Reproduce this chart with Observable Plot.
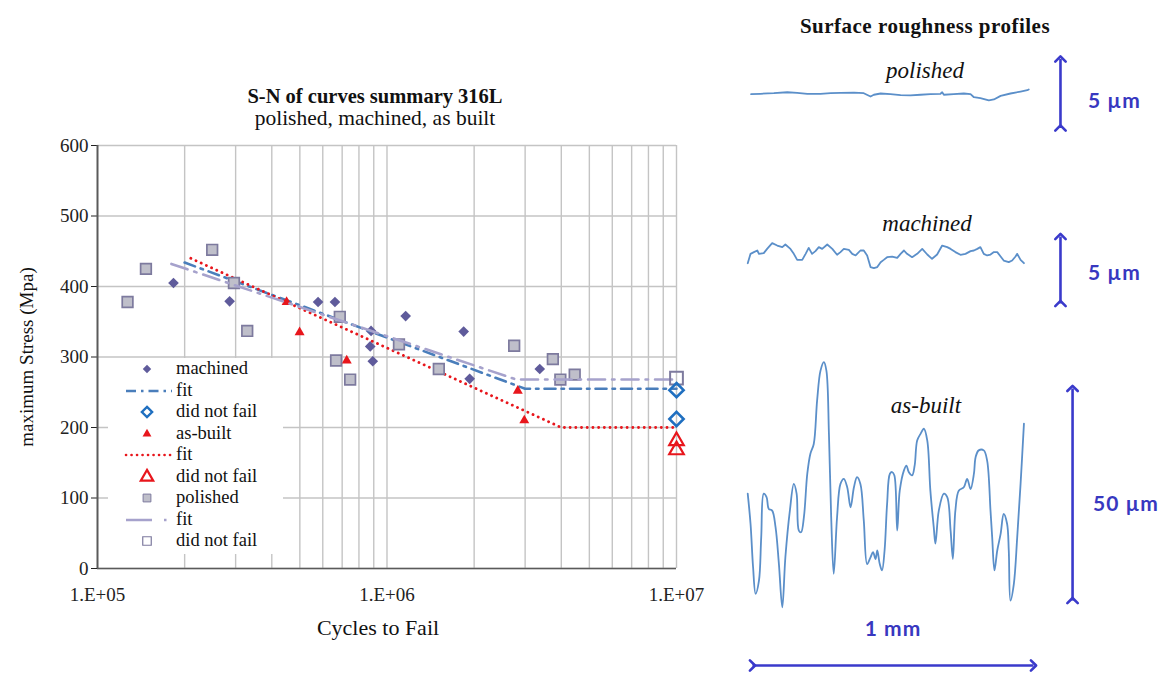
<!DOCTYPE html>
<html>
<head>
<meta charset="utf-8">
<script src="https://cdn.jsdelivr.net/npm/d3@7"></script>
<script src="https://cdn.jsdelivr.net/npm/@observablehq/plot@0.6"></script>
<style>
html,body{margin:0;padding:0;background:#fff;}
#page{position:relative;width:1164px;height:674px;overflow:hidden;font-family:"Liberation Serif","Times New Roman",serif;color:#111;}
.abs{position:absolute;white-space:nowrap;}
.ttl{font-weight:bold;font-size:20.5px;text-align:center;line-height:24px;}
.sub{font-size:21.5px;text-align:center;line-height:24px;}
.ax{font-size:19px;line-height:22px;}
.prof{font-style:italic;font-size:23px;line-height:26px;text-align:center;}
.um{font-family:Lato,"Open Sans",sans-serif;font-weight:bold;font-size:21px;line-height:24px;letter-spacing:1px;color:#3838c0;}
#legend{position:absolute;left:108px;top:358px;width:175px;height:196px;background:#fff;}
.lrow{position:absolute;left:0;height:21.5px;width:175px;}
.lrow svg{position:absolute;left:0;top:0;overflow:visible;}
.lrow span{position:absolute;left:68px;top:0;line-height:21.5px;font-size:18.5px;}
</style>
</head>
<body>
<div id="page"></div>
<script>
// ---------------- data ----------------
const xTicks = [1e5, 1e6, 1e7];
const xTickLabels = ["1.E+05", "1.E+06", "1.E+07"];
const yTicks = [0, 100, 200, 300, 400, 500, 600];
const xGrid = [2e5, 3e5, 4e5, 5e5, 6e5, 7e5, 8e5, 9e5, 1e6, 2e6, 3e6, 4e6, 5e6, 6e6, 7e6, 8e6, 9e6, 1e7];

// [cycles to fail, maximum stress MPa]
const machined = [[1.83e5,405],[2.86e5,379],[5.78e5,378],[6.61e5,378],[8.81e5,337],[8.75e5,315],[8.93e5,294],[1.16e6,358],[1.84e6,336],[1.93e6,269],[3.37e6,283]];
const machinedFit = [[2.0e5,434],[3.0e6,255],[1e7,255]];
const machinedRunout = [[1e7,253],[1e7,212]];

const asBuilt = [[4.5e5,378],[4.99e5,335],[7.26e5,295],[2.83e6,252],[2.98e6,210]];
const asBuiltFit = [[2.1e5,440],[4.0e6,200],[1e7,200]];
const asBuiltRunout = [[1e7,181],[1e7,168]];

const polished = [[1.27e5,378],[1.47e5,425],[2.49e5,452],[2.96e5,405],[3.29e5,337],[6.87e5,357],[6.67e5,295],[7.46e5,268],[1.1e6,318],[1.51e6,283],[2.75e6,316],[3.74e6,297],[3.97e6,268],[4.45e6,275]];
const polishedFit = [[1.8e5,432],[2.8e6,268],[1e7,268]];
const polishedRunout = [[1e7,270]];

const legendLabels = ["machined","fit","did not fail","as-built","fit","did not fail","polished","fit","did not fail"];

// surface profiles: [position mm, height µm]
const polishedProfile = [[-0.005,-0.05],[0.028,-0.02],[0.076,0.02],[0.124,0.09],[0.159,0.05],[0.195,-0.02],[0.242,-0.02],[0.278,0.02],[0.313,0.05],[0.361,0.07],[0.396,0.02],[0.420,-0.22],[0.432,-0.09],[0.456,0],[0.491,-0.05],[0.527,-0.12],[0.562,-0.14],[0.598,-0.09],[0.633,-0.05],[0.669,-0.02],[0.675,0.09],[0.681,-0.09],[0.716,-0.05],[0.752,0],[0.776,-0.05],[0.788,-0.27],[0.811,-0.34],[0.841,-0.49],[0.859,-0.43],[0.883,-0.17],[0.918,0],[0.954,0.14],[0.978,0.24],[0.983,0.29]];

const machinedProfile = [[-0.017,-0.95],[-0.007,-0.25],[0.005,-0.12],[0.017,0],[0.023,-0.25],[0.040,-0.2],[0.052,0.12],[0.070,0.55],[0.088,0.37],[0.106,0.25],[0.117,0.45],[0.135,0.12],[0.147,-0.25],[0.159,-0.7],[0.177,-0.7],[0.189,-0.25],[0.200,0.2],[0.212,-0.25],[0.224,-0.05],[0.236,0.25],[0.248,0.12],[0.266,0.45],[0.284,0.12],[0.301,-0.32],[0.313,-0.12],[0.325,0.12],[0.343,0.05],[0.355,-0.25],[0.367,-0.37],[0.384,0],[0.396,0],[0.408,-0.37],[0.420,-1.24],[0.432,-1.32],[0.444,-1.24],[0.456,-0.87],[0.467,-0.7],[0.479,-0.5],[0.497,-0.45],[0.515,-0.55],[0.527,-0.25],[0.539,0],[0.550,-0.25],[0.568,-0.5],[0.586,-0.25],[0.604,0.12],[0.622,-0.3],[0.639,-0.62],[0.657,-0.3],[0.675,0.37],[0.693,0.25],[0.705,0.12],[0.722,-0.12],[0.740,-0.32],[0.758,-0.25],[0.776,-0.05],[0.788,0],[0.800,0.12],[0.811,0.25],[0.823,-0.25],[0.835,-0.37],[0.847,-0.3],[0.859,-0.12],[0.871,-0.12],[0.883,-0.45],[0.894,-0.75],[0.912,-0.87],[0.924,-0.75],[0.936,-0.45],[0.942,-0.25],[0.954,-0.7],[0.966,-0.95]];

const asBuiltProfile = [[-0.017,0.2],[-0.007,-6.9],[0.002,-17.1],[0.011,-23.4],[0.023,-20.3],[0.031,-10.1],[0.040,0.2],[0.050,-0.6],[0.058,-3.4],[0.070,-3.8],[0.082,-7.7],[0.094,-16.4],[0.106,-26.6],[0.117,-14.8],[0.133,-3.8],[0.147,2.5],[0.157,0.2],[0.165,-8.5],[0.173,-8.9],[0.183,-5.3],[0.195,4.9],[0.206,9.6],[0.218,11.9],[0.230,22.2],[0.242,29.2],[0.254,31.2],[0.263,29.2],[0.272,14.3],[0.280,-5.3],[0.289,-18.7],[0.301,-5.3],[0.313,2.5],[0.325,3.7],[0.337,1.7],[0.349,-3.0],[0.361,1.7],[0.372,4.1],[0.384,2.5],[0.396,-6.1],[0.408,-16.4],[0.420,-14.8],[0.429,-13.6],[0.438,-15.2],[0.444,-13.2],[0.453,-16.4],[0.461,-17.9],[0.470,-13.2],[0.479,-2.2],[0.489,4.9],[0.497,5.3],[0.505,4.5],[0.515,-8.5],[0.524,0.9],[0.539,5.7],[0.548,6.8],[0.556,5.3],[0.568,4.5],[0.577,6.8],[0.586,12.7],[0.598,14.3],[0.610,15.5],[0.622,12.7],[0.633,0.9],[0.645,-7.7],[0.651,-11.6],[0.663,-3.8],[0.681,0.2],[0.693,-0.6],[0.705,-8.5],[0.713,-15.2],[0.722,-3.8],[0.734,0.9],[0.752,1.7],[0.764,3.7],[0.776,1.3],[0.788,4.9],[0.794,8.8],[0.805,10.4],[0.823,10.4],[0.835,8.0],[0.847,-3.8],[0.853,-10.1],[0.861,-17.9],[0.871,-13.2],[0.883,-9.3],[0.894,-4.6],[0.906,-6.9],[0.912,-13.2],[0.918,-25.0],[0.930,-21.1],[0.942,-10.1],[0.954,2.5],[0.966,16.7]];

const heightBars = [5, 5, 50];      // µm
const lengthBar = [1];              // mm
const barLabels = ["5 µm", "5 µm", "50 µm", "1 mm"];

// ---------------- styles ----------------
const C = {
  mach: "#5f5b9b", machFit: "#4a7ebb", machOpen: "#1f6fc0",
  red: "#e8161c",
  polFill: "#bfbfca", polStroke: "#7d7a9e", polFit: "#a6a2cc", polOpen: "#7d7a9e",
  grid: "#c4c4c4", axis: "#5a5a5a", prof: "#5b8fc9", bar: "#3a3acb"
};
const page = document.getElementById("page");
function place(el, left, top, width) {
  const d = document.createElement("div");
  d.className = "abs";
  d.style.left = left + "px"; d.style.top = top + "px";
  if (width) d.style.width = width + "px";
  d.appendChild(el);
  page.appendChild(d);
  return d;
}
function text(str, cls, left, top, width, extra) {
  const d = document.createElement("div");
  d.className = "abs " + cls;
  d.textContent = str;
  d.style.left = left + "px"; d.style.top = top + "px";
  if (width) d.style.width = width + "px";
  if (extra) Object.assign(d.style, extra);
  page.appendChild(d);
  return d;
}
const pt = ([c, s]) => ({c, s});

// ---------------- main S-N chart ----------------
const main = Plot.plot({
  width: 720, height: 520,
  marginLeft: 97, marginRight: 44, marginTop: 15, marginBottom: 82,
  style: {fontFamily: "Liberation Serif, serif", fontSize: "19px", color: "#222", background: "transparent", overflow: "visible"},
  x: {type: "log", domain: [1e5, 1e7], ticks: xTicks, tickFormat: d => xTickLabels[xTicks.indexOf(d)], tickSize: 0, tickPadding: 19, label: null},
  y: {domain: [0, 600], ticks: yTicks, tickSize: 6, tickPadding: 3, label: null},
  marks: [
    Plot.ruleY(yTicks, {stroke: C.grid, strokeWidth: 1.4}),
    Plot.ruleX(xGrid, {stroke: C.grid, strokeWidth: 1.4}),
    Plot.ruleX([1e5], {stroke: C.axis, strokeWidth: 2}),
    Plot.ruleY([0], {stroke: C.axis, strokeWidth: 1.6}),
    Plot.dot(machined.map(pt), {x: "c", y: "s", symbol: "diamond2", r: 4.8, fill: C.mach}),
    Plot.line(machinedFit.map(pt), {x: "c", y: "s", stroke: C.machFit, strokeWidth: 2.6, strokeDasharray: "11 6 2.5 6"}),
    Plot.dot(asBuilt.map(pt), {x: "c", y: "s", symbol: "triangle", r: 3.7, fill: C.red}),
    Plot.line(asBuiltFit.map(pt), {x: "c", y: "s", stroke: C.red, strokeWidth: 2.8, strokeDasharray: "0.1 5.6", strokeLinecap: "round"}),
    Plot.dot(asBuiltRunout.map(pt), {x: "c", y: "s", symbol: "triangle", r: 5.4, fill: "none", stroke: C.red, strokeWidth: 2.2}),
    Plot.dot(polished.map(pt), {x: "c", y: "s", symbol: "square", r: 6.0, fill: C.polFill, stroke: C.polStroke, strokeWidth: 1.7}),
    Plot.line(polishedFit.map(pt), {x: "c", y: "s", stroke: C.polFit, strokeWidth: 2.6, strokeDasharray: "17 7 2.5 7"}),
    Plot.dot(polishedRunout.map(pt), {x: "c", y: "s", symbol: "square", r: 7.2, fill: "none", stroke: C.polOpen, strokeWidth: 2}),
    Plot.dot(machinedRunout.map(pt), {x: "c", y: "s", symbol: "diamond2", r: 6.4, fill: "none", stroke: C.machOpen, strokeWidth: 2.6})
  ]
});
place(main, 0, 130, 720);

// titles & axis labels
text("S-N of curves summary 316L", "ttl", 175, 84, 400);
text("polished, machined, as built", "sub", 175, 106, 400);
text("Cycles to Fail", "ax", 278, 616, 200, {textAlign: "center", fontSize: "22px", lineHeight: "24px"});
text("maximum Stress (Mpa)", "ax", -73, 346, 200, {textAlign: "center", transform: "rotate(-90deg)", transformOrigin: "50% 50%"});

// legend
const legend = document.createElement("div");
legend.id = "legend";
page.appendChild(legend);
const sym = (type, r) => d3.symbol(type, Math.PI * r * r)();
const swatches = [
  {sym: d3.symbolDiamond2, r: 3.8, fill: C.mach},
  {line: C.machFit, dash: "10 5 2.5 5"},
  {sym: d3.symbolDiamond2, r: 4.6, fill: "#fff", stroke: C.machOpen, sw: 2.4},
  {sym: d3.symbolTriangle, r: 3.3, fill: C.red},
  {line: C.red, dash: "0.1 5.4", cap: "round", w: 2.6},
  {sym: d3.symbolTriangle, r: 4.6, fill: "#fff", stroke: C.red, sw: 2.2},
  {sym: d3.symbolSquare, r: 4.4, fill: C.polFill, stroke: C.polStroke, sw: 1},
  {line: C.polFit, dash: "26 12 2.5 40"},
  {sym: d3.symbolSquare, r: 4.8, fill: "#fff", stroke: C.polOpen, sw: 1.2}
];
legendLabels.forEach((lab, i) => {
  const row = document.createElement("div");
  row.className = "lrow";
  row.style.top = (i * 21.5) + "px";
  const s = swatches[i];
  let inner;
  if (s.line) {
    inner = `<line x1="18" x2="64" y1="11" y2="11" stroke="${s.line}" stroke-width="${s.w || 2.5}" stroke-dasharray="${s.dash}" stroke-linecap="${s.cap || 'butt'}"/>`;
  } else {
    inner = `<path transform="translate(39,11)" d="${sym(s.sym, s.r)}" fill="${s.fill}" stroke="${s.stroke || 'none'}" stroke-width="${s.sw || 0}"/>`;
  }
  row.innerHTML = `<svg width="68" height="22">${inner}</svg><span>${lab}</span>`;
  legend.appendChild(row);
});

// ---------------- surface roughness profiles ----------------
text("Surface roughness profiles", "ttl", 725, 14, 400, {fontSize: "21px", letterSpacing: "0.5px"});
const profW = 424, mL = 12, mR = 131;
function profile(data, {top, height, ydom, bar, barX, barDy = 0, curve = "linear"}) {
  const p = Plot.plot({
    width: profW, height,
    marginLeft: mL, marginRight: mR, marginTop: 0, marginBottom: 0,
    style: {background: "transparent", overflow: "visible"},
    x: {domain: [0, 1], axis: null},
    y: {domain: ydom, axis: null},
    marks: [
      Plot.line(data.map(([mm, um]) => ({mm, um})), {x: "mm", y: "um", stroke: C.prof, strokeWidth: 1.8, curve}),
      Plot.link([bar], {x1: () => barX, x2: () => barX, y1: d => -d / 2, y2: d => d / 2, dy: barDy,
        stroke: C.bar, strokeWidth: 2.6, markerStart: "arrow", markerEnd: "arrow"})
    ]
  });
  place(p, 740, top, profW);
}
profile(polishedProfile, {top: 47.5, height: 90, ydom: [-3.26, 3.26], bar: heightBars[0], barX: 1.096});
profile(machinedProfile, {top: 205, height: 90, ydom: [-3.36, 3.36], bar: heightBars[1], barX: 1.096, barDy: 19.5});
profile(asBuiltProfile, {top: 354, height: 280, ydom: [-33.0, 33.0], bar: heightBars[2], barX: 1.139, curve: "catmull-rom"});

// 1 mm scale bar
const mmBar = Plot.plot({
  width: profW, height: 40,
  marginLeft: mL, marginRight: mR, marginTop: 0, marginBottom: 0,
  style: {background: "transparent", overflow: "visible"},
  x: {domain: [0, 1], axis: null},
  y: {domain: [0, 1], axis: null},
  marks: [
    Plot.link(lengthBar, {x1: 0, x2: d => d, y1: () => 0.5, y2: () => 0.5,
      stroke: C.bar, strokeWidth: 2.6, markerStart: "arrow", markerEnd: "arrow"})
  ]
});
place(mmBar, 740, 645, profW);

text("polished", "prof", 825, 58, 200);
text("machined", "prof", 827, 211, 200);
text("as-built", "prof", 826, 393, 200);
text(barLabels[0], "um", 1088, 88);
text(barLabels[1], "um", 1088, 260);
text(barLabels[2], "um", 1093, 491);
text(barLabels[3], "um", 843, 616, 100, {textAlign: "center"});
</script>
</body>
</html>
